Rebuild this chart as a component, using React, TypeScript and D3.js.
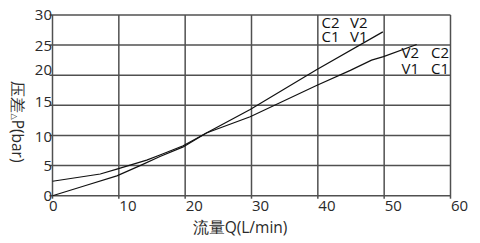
import React from "react";
import * as d3 from "d3";

const xTicks = [0, 10, 20, 30, 40, 50, 60];
const yTicks = [0, 5, 10, 15, 20, 25, 30];

const curveAQ = [0, 5, 9.7, 13.2, 16.2, 19.7, 23.2, 29.8, 39.8, 49.8];
const curveAP = [0, 1.7, 3.3, 5.0, 6.5, 8.1, 10.4, 14.3, 20.9, 27.2];

const curveBQ = [0, 7.2, 9.7, 14.2, 16.2, 19.7, 23.2, 29.8, 39.8, 44.9, 48.1, 49.9, 54.9];
const curveBP = [2.4, 3.6, 4.4, 5.9, 6.75, 8.3, 10.4, 13.1, 18.3, 20.8, 22.5, 23.1, 25.1];

const labelsA = [["C2", "V2"], ["C1", "V1"]];
const labelsB = [["V2", "C2"], ["V1", "C1"]];

const W = 480;
const H = 243;
const font = "'Open Sans', 'DejaVu Sans', sans-serif";
const yLabelNudge: Record<number, number> = { 20: -6, 15: -3.5, 10: 1.5 };

export default function App() {
  const x = d3.scaleLinear().domain([0, 60]).range([52.5, 450.5]);
  const y = d3.scaleLinear().domain([0, 30]).range([195.7, 15]);
  const line = d3
    .line<[number, number]>()
    .x((d) => x(d[0]))
    .y((d) => y(d[1]));
  const dataA: [number, number][] = curveAQ.map((q, i) => [q, curveAP[i]]);
  const dataB: [number, number][] = curveBQ.map((q, i) => [q, curveBP[i]]);
  const grid = "#505050";
  const txt = "#2a2a2a";

  const block = (
    rows: string[][],
    x0: number,
    x1: number,
    y0: number,
    dy: number
  ) =>
    rows.flatMap((pair, i) => [
      <tspan key={"a" + i} x={x0} y={y0 + i * dy}>
        {pair[0]}
      </tspan>,
      <tspan key={"b" + i} x={x1} y={y0 + i * dy}>
        {pair[1]}
      </tspan>,
    ]);

  return (
    <svg
      width={W}
      height={H}
      style={{ position: "absolute", left: 0, top: 0, background: "#fff" }}
      fontFamily={font}
    >
      {yTicks.map((t) => (
        <line
          key={"gy" + t}
          x1={x(0) - 3}
          x2={x(60)}
          y1={y(t)}
          y2={y(t)}
          stroke={grid}
          strokeWidth={1.5}
        />
      ))}
      {xTicks.map((t) => (
        <line
          key={"gx" + t}
          x1={x(t)}
          x2={x(t)}
          y1={y(30)}
          y2={y(0) + 3}
          stroke={grid}
          strokeWidth={1.5}
        />
      ))}
      {yTicks.map((t) => (
        <text
          key={"ty" + t}
          x={x(0) - 0.5}
          y={y(t) + (yLabelNudge[t] || 0)}
          dy="0.36em"
          textAnchor="end"
          fontSize={15}
          fill={txt}
        >
          {t}
        </text>
      ))}
      {xTicks.map((t) => (
        <text
          key={"tx" + t}
          x={t === 0 ? x(t) + 0.8 : x(t) + 0.5}
          y={y(0) + 15.5}
          textAnchor={t === 0 ? "middle" : "start"}
          fontSize={15}
          fill={txt}
        >
          {t}
        </text>
      ))}
      <path d={line(dataA) || ""} fill="none" stroke="#111" strokeWidth={1.2} />
      <path d={line(dataB) || ""} fill="none" stroke="#111" strokeWidth={1.2} />
      <text fontSize={15} fill="#111">
        {block(labelsA, 321.5, 350, 28.3, 13.4)}
      </text>
      <text fontSize={15} fill="#111">
        {block(labelsB, 401.5, 431, 57.7, 16.3)}
      </text>
      <text x={240} y={233} textAnchor="middle" fontSize={15.5} fill={txt}>
        流量Q(L/min)
      </text>
      <text
        transform={`translate(11.5,${122}) rotate(90)`}
        textAnchor="middle"
        fontSize={15.5}
        fill={txt}
      >
        压差<tspan fontSize={8}>△</tspan>P(bar)
      </text>
    </svg>
  );
}
